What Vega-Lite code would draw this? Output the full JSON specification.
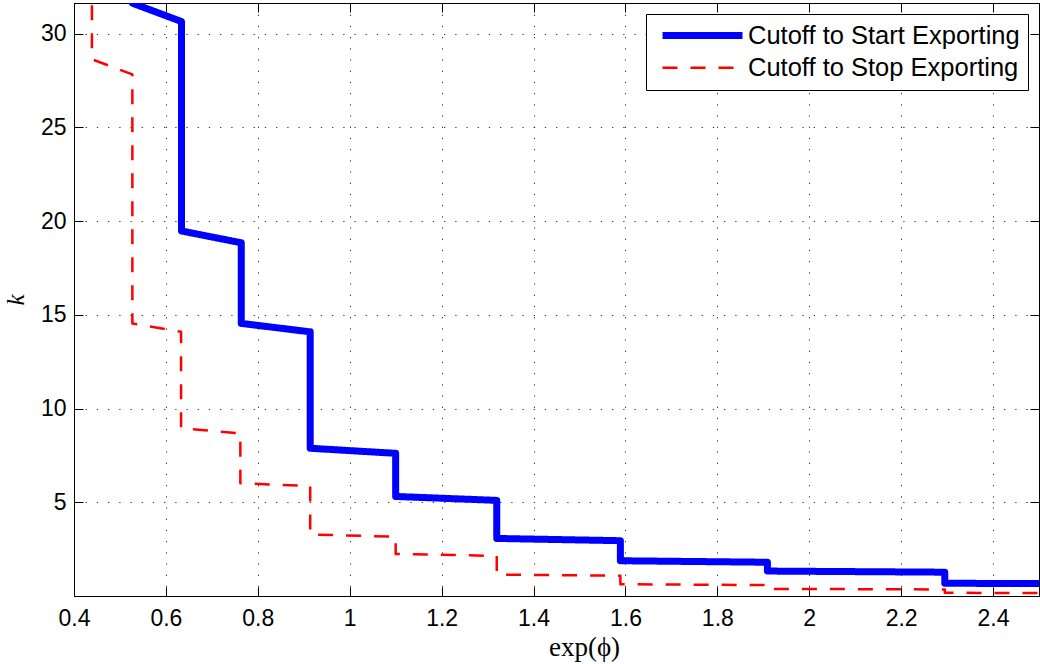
{
  "$schema": "https://vega.github.io/schema/vega-lite/v6.json",
  "width": 965,
  "height": 593,
  "autosize": {"type": "none"},
  "padding": {"left": 74, "top": 3, "right": 1, "bottom": 68},
  "background": "white",
  "config": {
    "view": {"stroke": "black", "strokeWidth": 1},
    "font": "Liberation Sans",
    "axis": {
      "labelFont": "Liberation Sans",
      "labelFontSize": 23,
      "labelColor": "black",
      "domainColor": "black",
      "domainWidth": 1,
      "tickColor": "black",
      "tickWidth": 1,
      "tickSize": -9,
      "gridColor": "black",
      "gridOpacity": 0.85,
      "gridWidth": 1,
      "gridDash": [1.2, 10],
      "labelOverlap": false,
      "labelFlush": false,
      "labelBound": false,
      "titleColor": "black",
      "titleFont": "Liberation Serif",
      "titleFontWeight": "normal"
    }
  },
  "datasets": {
    "cutoffs": [
      {"s": "Cutoff to Start Exporting", "i": 1, "x": 0.527, "k": 33.0},
      {"s": "Cutoff to Start Exporting", "i": 2, "x": 0.527, "k": 31.62},
      {"s": "Cutoff to Start Exporting", "i": 3, "x": 0.634, "k": 30.64},
      {"s": "Cutoff to Start Exporting", "i": 4, "x": 0.634, "k": 19.47},
      {"s": "Cutoff to Start Exporting", "i": 5, "x": 0.764, "k": 18.84},
      {"s": "Cutoff to Start Exporting", "i": 6, "x": 0.764, "k": 14.54},
      {"s": "Cutoff to Start Exporting", "i": 7, "x": 0.914, "k": 14.09},
      {"s": "Cutoff to Start Exporting", "i": 8, "x": 0.914, "k": 7.88},
      {"s": "Cutoff to Start Exporting", "i": 9, "x": 1.100, "k": 7.61},
      {"s": "Cutoff to Start Exporting", "i": 10, "x": 1.100, "k": 5.31},
      {"s": "Cutoff to Start Exporting", "i": 11, "x": 1.320, "k": 5.10},
      {"s": "Cutoff to Start Exporting", "i": 12, "x": 1.320, "k": 3.07},
      {"s": "Cutoff to Start Exporting", "i": 13, "x": 1.589, "k": 2.95},
      {"s": "Cutoff to Start Exporting", "i": 14, "x": 1.589, "k": 1.88},
      {"s": "Cutoff to Start Exporting", "i": 15, "x": 1.909, "k": 1.80},
      {"s": "Cutoff to Start Exporting", "i": 16, "x": 1.909, "k": 1.33},
      {"s": "Cutoff to Start Exporting", "i": 17, "x": 2.295, "k": 1.27},
      {"s": "Cutoff to Start Exporting", "i": 18, "x": 2.295, "k": 0.68},
      {"s": "Cutoff to Start Exporting", "i": 19, "x": 2.500, "k": 0.66},
      {"s": "Cutoff to Stop Exporting", "i": 1, "x": 0.439, "k": 33.0},
      {"s": "Cutoff to Stop Exporting", "i": 2, "x": 0.439, "k": 28.63},
      {"s": "Cutoff to Stop Exporting", "i": 3, "x": 0.527, "k": 27.82},
      {"s": "Cutoff to Stop Exporting", "i": 4, "x": 0.527, "k": 14.54},
      {"s": "Cutoff to Stop Exporting", "i": 5, "x": 0.633, "k": 14.09},
      {"s": "Cutoff to Stop Exporting", "i": 6, "x": 0.633, "k": 8.94},
      {"s": "Cutoff to Stop Exporting", "i": 7, "x": 0.762, "k": 8.68},
      {"s": "Cutoff to Stop Exporting", "i": 8, "x": 0.762, "k": 6.01},
      {"s": "Cutoff to Stop Exporting", "i": 9, "x": 0.914, "k": 5.87},
      {"s": "Cutoff to Stop Exporting", "i": 10, "x": 0.914, "k": 3.28},
      {"s": "Cutoff to Stop Exporting", "i": 11, "x": 1.100, "k": 3.16},
      {"s": "Cutoff to Stop Exporting", "i": 12, "x": 1.100, "k": 2.24},
      {"s": "Cutoff to Stop Exporting", "i": 13, "x": 1.320, "k": 2.14},
      {"s": "Cutoff to Stop Exporting", "i": 14, "x": 1.320, "k": 1.14},
      {"s": "Cutoff to Stop Exporting", "i": 15, "x": 1.589, "k": 1.08},
      {"s": "Cutoff to Stop Exporting", "i": 16, "x": 1.589, "k": 0.63},
      {"s": "Cutoff to Stop Exporting", "i": 17, "x": 1.909, "k": 0.58},
      {"s": "Cutoff to Stop Exporting", "i": 18, "x": 1.909, "k": 0.38},
      {"s": "Cutoff to Stop Exporting", "i": 19, "x": 2.295, "k": 0.35},
      {"s": "Cutoff to Stop Exporting", "i": 20, "x": 2.295, "k": 0.17},
      {"s": "Cutoff to Stop Exporting", "i": 21, "x": 2.500, "k": 0.16}
    ]
  },
  "data": {"name": "cutoffs"},
  "resolve": {"axis": {"x": "independent", "y": "independent"}},
  "layer": [
    {
      "mark": {"type": "line", "clip": true, "strokeJoin": "round"},
      "encoding": {
        "x": {
          "field": "x", "type": "quantitative",
          "scale": {"domain": [0.4, 2.5], "nice": false, "zero": false},
          "axis": {
            "orient": "bottom",
            "values": [0.4, 0.6, 0.8, 1.0, 1.2, 1.4, 1.6, 1.8, 2.0, 2.2, 2.4],
            "format": ".1~f",
            "labelPadding": 20,
            "title": "exp(ϕ)",
            "titleFontSize": 27,
            "titlePadding": 4,
            "titleX": 510
          }
        },
        "y": {
          "field": "k", "type": "quantitative",
          "scale": {"domain": [0, 31.63], "nice": false, "zero": false},
          "axis": {
            "orient": "left",
            "values": [5, 10, 15, 20, 25, 30],
            "labelPadding": 17,
            "title": "k",
            "titleFontStyle": "italic",
            "titleFontSize": 25,
            "titlePadding": 12
          }
        },
        "order": {"field": "i", "type": "quantitative"},
        "color": {
          "field": "s", "type": "nominal",
          "scale": {
            "domain": ["Cutoff to Start Exporting", "Cutoff to Stop Exporting"],
            "range": ["#0000ff", "#ff0000"]
          },
          "legend": {
            "title": null,
            "orient": "top-right",
            "offset": 11,
            "fillColor": "white",
            "strokeColor": "black",
            "padding": 8,
            "cornerRadius": 0,
            "symbolType": "M-4,0H4",
            "symbolSize": 400,
            "symbolOffset": 35,
            "labelFont": "Liberation Sans",
            "labelFontSize": 25.5,
            "labelColor": "black",
            "labelLimit": 400,
            "labelOffset": 32,
            "rowPadding": 5
          }
        },
        "strokeDash": {
          "field": "s", "type": "nominal",
          "scale": {
            "domain": ["Cutoff to Start Exporting", "Cutoff to Stop Exporting"],
            "range": [[1, 0], [15, 13]]
          },
          "legend": {"title": null}
        },
        "strokeWidth": {
          "field": "s", "type": "nominal",
          "scale": {
            "domain": ["Cutoff to Start Exporting", "Cutoff to Stop Exporting"],
            "range": [7, 2.5]
          },
          "legend": {"title": null}
        }
      }
    },
    {
      "mark": {"type": "point", "opacity": 0, "size": 0},
      "encoding": {
        "x": {
          "field": "x", "type": "quantitative",
          "axis": {
            "orient": "top",
            "values": [0.4, 0.6, 0.8, 1.0, 1.2, 1.4, 1.6, 1.8, 2.0, 2.2, 2.4],
            "labels": false, "grid": false, "title": null
          }
        },
        "y": {
          "field": "k", "type": "quantitative",
          "axis": {
            "orient": "right",
            "values": [5, 10, 15, 20, 25, 30],
            "labels": false, "grid": false, "title": null
          }
        }
      }
    }
  ]
}
